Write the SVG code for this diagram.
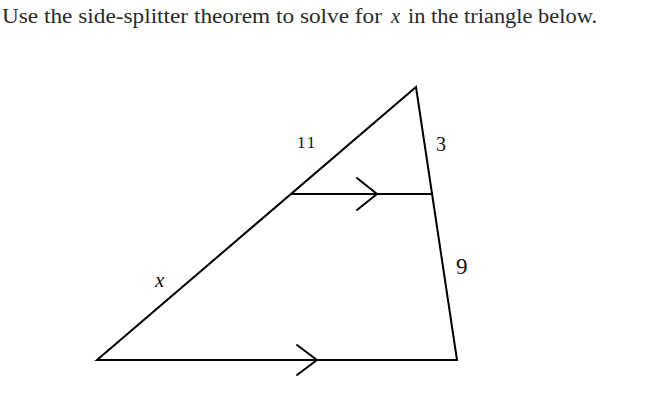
<svg xmlns="http://www.w3.org/2000/svg" width="656" height="406" viewBox="0 0 656 406">
<style>
.ln{stroke:#000;stroke-width:2;fill:none;stroke-linecap:round;stroke-linejoin:miter}
.t{font-family:"Liberation Serif","DejaVu Serif",serif;fill:#2a2a2a;font-size:20.5px}
.lbl{font-family:"Liberation Serif","DejaVu Serif",serif;fill:#111}
</style>
<rect width="656" height="406" fill="#fff"/>
<g id="title">
<text class="t" x="2" y="23" textLength="380" lengthAdjust="spacingAndGlyphs">Use the side-splitter theorem to solve for</text>
<text class="t" x="391" y="23" font-style="italic">x</text>
<text class="t" x="408" y="23" textLength="189" lengthAdjust="spacingAndGlyphs">in the triangle below.</text>
</g>
<g id="triangle">
<polygon class="ln" points="416,87 97,360 457,360"/>
</g>
<g id="connectors">
<line class="ln" x1="292" y1="194" x2="432" y2="194"/>
<polyline class="ln" points="357,178 377,194 357,210"/>
<polyline class="ln" points="297,345 317,360 297,375"/>
</g>
<g id="labels">
<text class="lbl" x="297" y="148" font-size="17" letter-spacing="2">11</text>
<text class="lbl" x="436" y="151" font-size="20">3</text>
<text class="lbl" x="456" y="274" font-size="23">9</text>
<text class="lbl" x="155" y="287" font-size="21" font-style="italic">x</text>
</g>
</svg>
